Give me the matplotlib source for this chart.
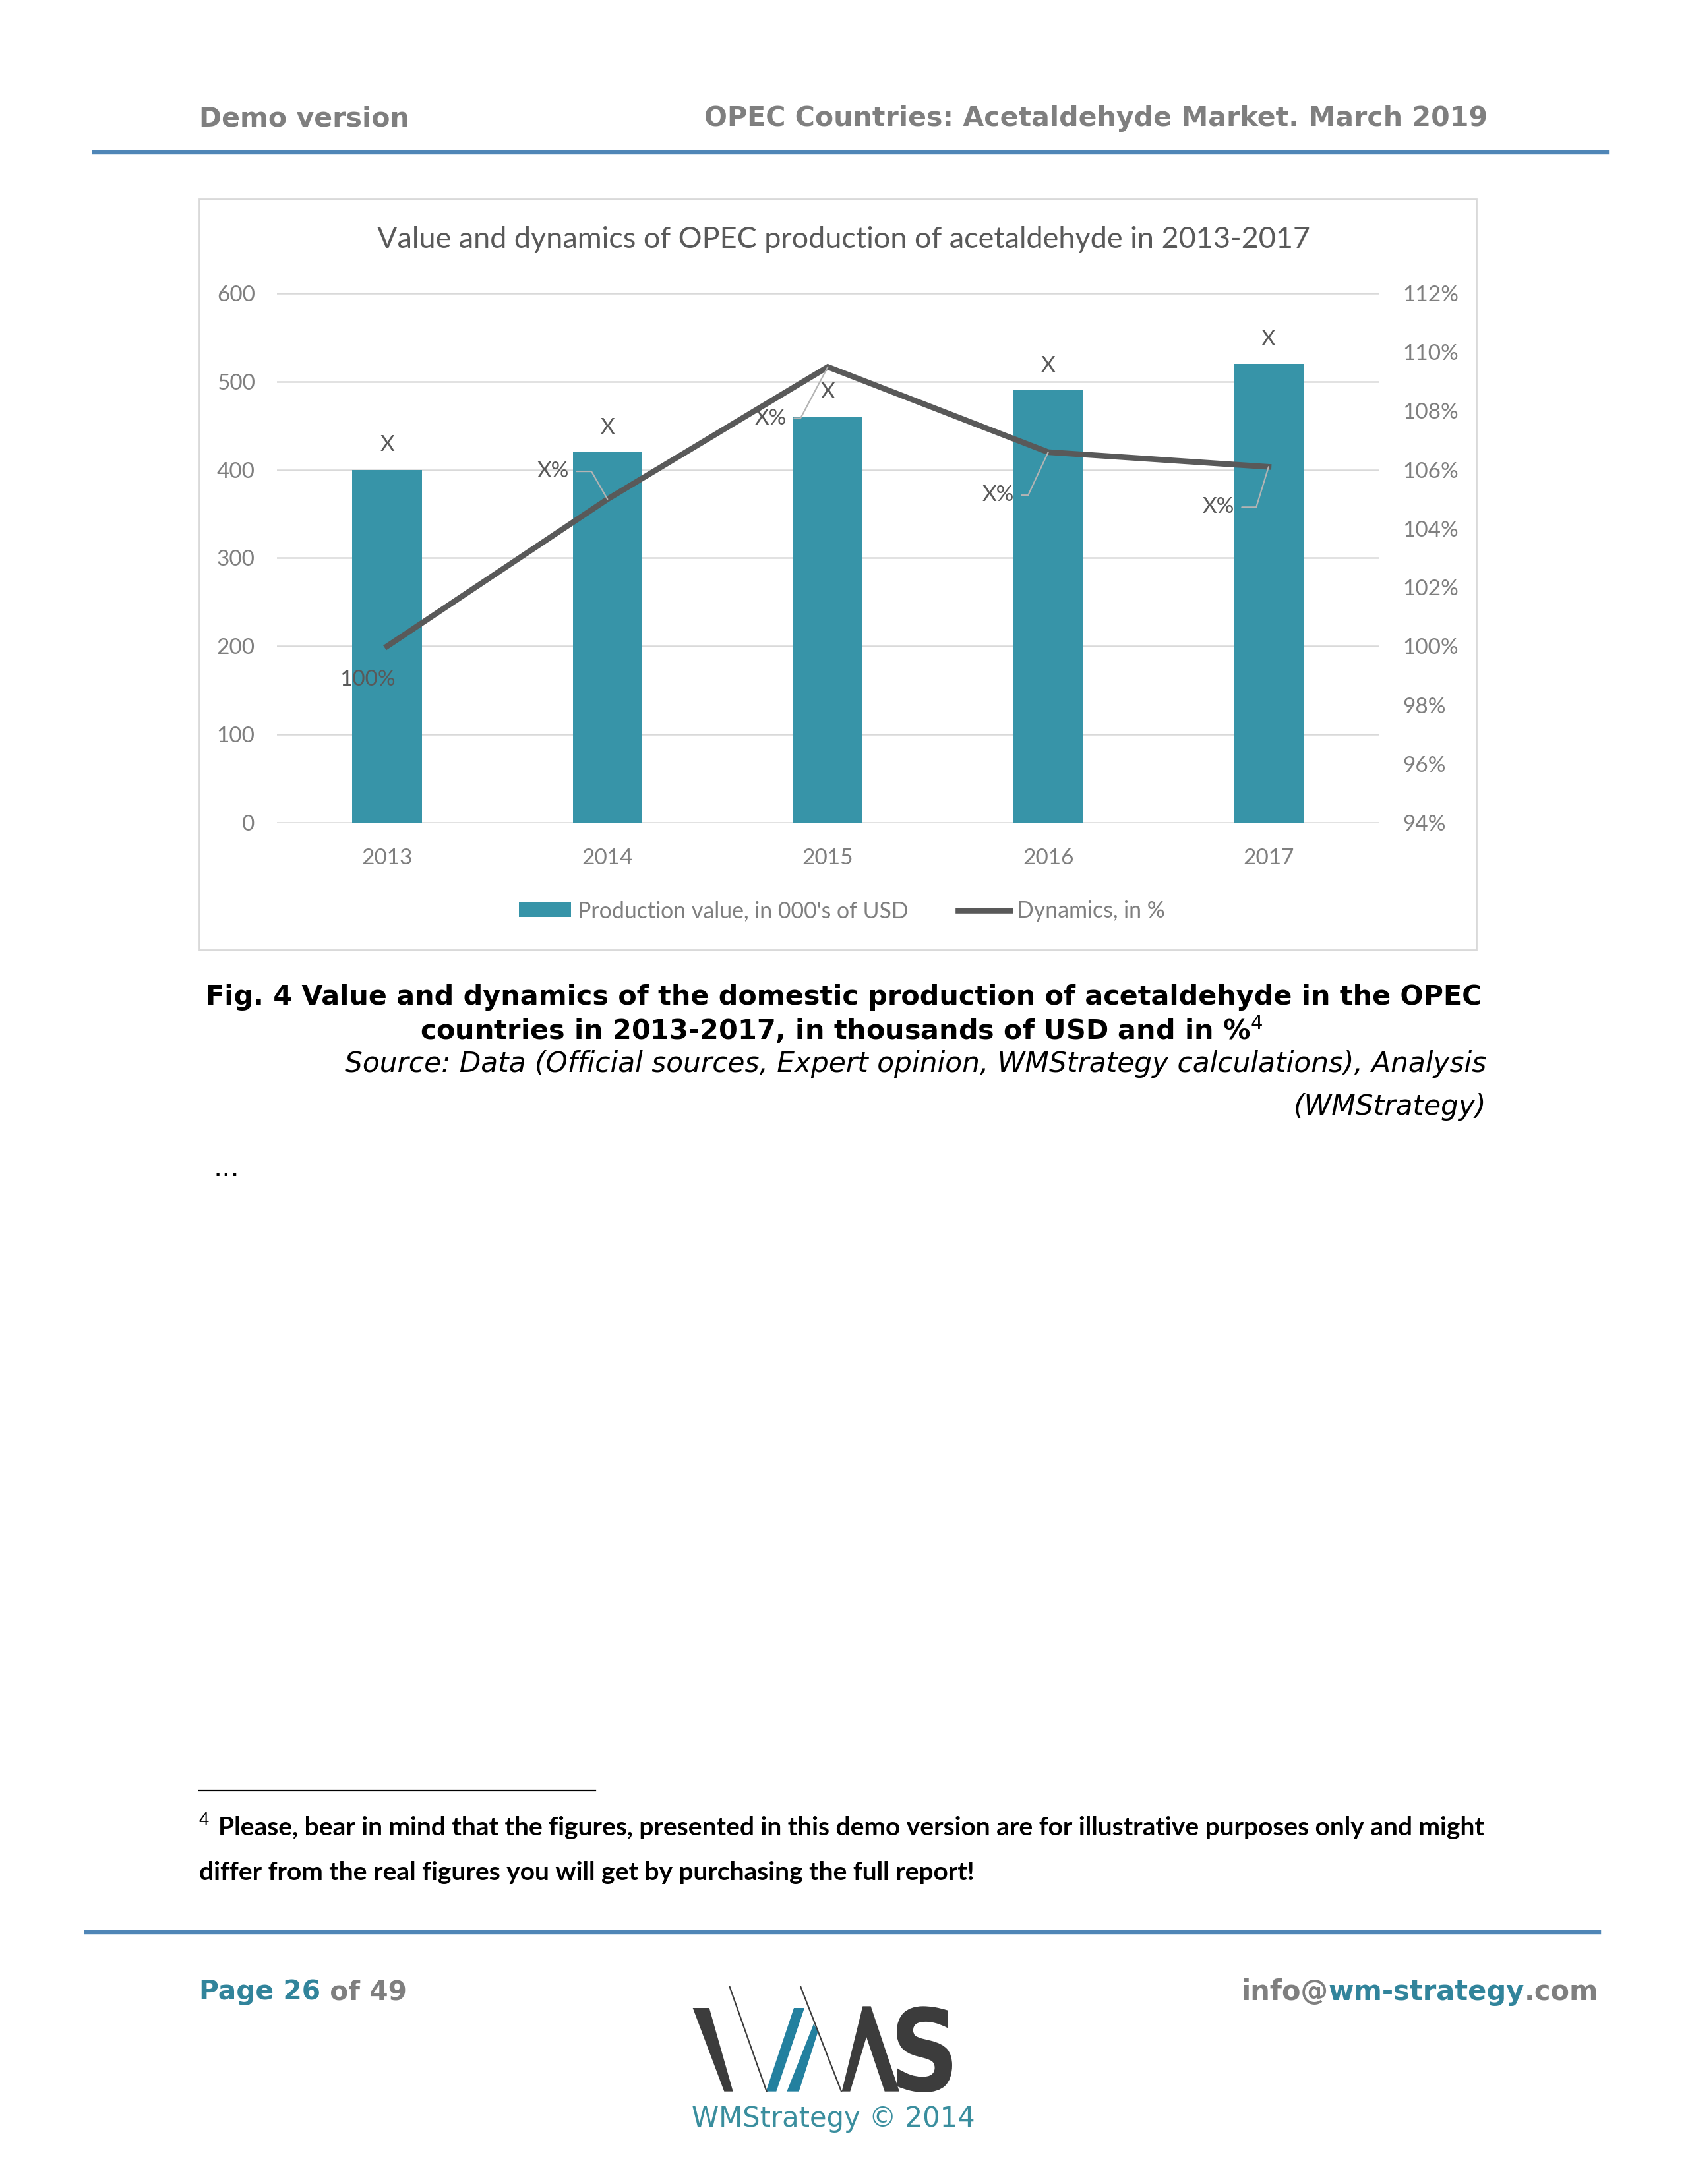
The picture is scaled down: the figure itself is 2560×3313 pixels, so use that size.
import matplotlib
matplotlib.use('Agg')
import matplotlib.pyplot as plt
from matplotlib.patches import Rectangle, Polygon, Patch, PathPatch
from matplotlib.lines import Line2D
from matplotlib.ticker import PercentFormatter
from matplotlib.textpath import TextPath
from matplotlib.font_manager import FontProperties
from matplotlib.transforms import Affine2D
import numpy as np

# ---------------- data ----------------
years = ['2013', '2014', '2015', '2016', '2017']
production_value = [400, 420, 460, 490, 520]
dynamics = [1.000, 1.050, 1.095, 1.066, 1.061]
value_labels = ['X', 'X', 'X', 'X', 'X']
dynamics_labels = ['100%', 'X%', 'X%', 'X%', 'X%']
left_ticks = [0, 100, 200, 300, 400, 500, 600]
right_ticks = [0.94, 0.96, 0.98, 1.00, 1.02, 1.04, 1.06, 1.08, 1.10, 1.12]

# ---------------- page ----------------
W, H = 2560, 3313
DPI = 200
fig = plt.figure(figsize=(W / DPI, H / DPI), dpi=DPI)
fig.patch.set_facecolor('white')

def fx(px):
    return px / W

def fy(py):
    return 1 - py / H

CH = ['Lato', 'DejaVu Sans']
DOC = ['DejaVu Sans']
TEAL = '#31849B'
GRAY = '#7F7F7F'
BLUE = '#4F86B7'

# header
fig.text(fx(302), fy(180), 'Demo version', family=DOC, weight='bold', fontsize=14.8,
         color=GRAY, ha='left', va='center')
fig.text(fx(2256), fy(180), 'OPEC Countries: Acetaldehyde Market. March 2019', family=DOC,
         weight='bold', fontsize=14.8, color=GRAY, ha='right', va='center')
fig.add_artist(Line2D([fx(143), fx(2437)], [fy(231), fy(231)], color=BLUE, lw=2.3,
                      transform=fig.transFigure))

# chart box (behind the axes)
fig.add_artist(Rectangle((fx(302), fy(1441)), fx(2239) - fx(302), fy(302) - fy(1441),
                         transform=fig.transFigure, facecolor='none', edgecolor='#D9D9D9',
                         lw=1.0, zorder=-5))

# ---------------- chart ----------------
ax = fig.add_axes([fx(420), fy(1248), fx(2091) - fx(420), fy(445) - fy(1248)])
ax.set_facecolor('none')
x = np.arange(len(years))
bars = ax.bar(x, production_value, width=0.315, color='#3794A8', zorder=2)
ax.set_xlim(-0.5, len(years) - 0.5)
ax.set_ylim(0, 600)
ax.set_yticks(left_ticks)
ax.set_xticks(x)
ax.set_xticklabels(years)
ax.grid(axis='y', color='#D9D9D9', lw=0.9, zorder=0)
ax.set_axisbelow(True)
for s in ax.spines.values():
    s.set_visible(False)
ax.tick_params(axis='both', length=0, labelsize=12, labelcolor='#7F7F7F')
ax.tick_params(axis='y', pad=12)
ax.tick_params(axis='x', pad=14)
for t in ax.get_xticklabels() + ax.get_yticklabels():
    t.set_family(CH)
ax.bar_label(bars, labels=value_labels, padding=8, fontsize=12, color='#595959', family=CH)

ax2 = ax.twinx()
ax2.set_ylim(0.94, 1.12)
ax2.set_yticks(right_ticks)
ax2.yaxis.set_major_formatter(PercentFormatter(1.0, decimals=0))
for s in ax2.spines.values():
    s.set_visible(False)
ax2.tick_params(axis='y', length=0, labelsize=12, labelcolor='#7F7F7F', pad=13)
for t in ax2.get_yticklabels():
    t.set_family(CH)
line, = ax2.plot(x, dynamics, color='#595959', lw=3.1, solid_joinstyle='miter', zorder=3)

offsets = [(-10.6, -18.2), (-29.6, 15.2), (-31.1, -28.1), (-27.3, -23.5), (-27.3, -22.0)]
leader_angle = [None, -60, 62, 65, 73]
for i, (lab, off) in enumerate(zip(dynamics_labels, offsets)):
    kw = dict(textcoords='offset points', xytext=off, ha='center', va='center',
              fontsize=12, color='#595959', family=CH)
    if leader_angle[i] is not None:
        kw['arrowprops'] = dict(arrowstyle='-', color='#B4B4B4', lw=0.8, shrinkA=2, shrinkB=0,
                                relpos=(1.0, 0.5),
                                connectionstyle='angle,angleA=0,angleB=%d,rad=0' % leader_angle[i])
    ax2.annotate(lab, xy=(x[i], dynamics[i]), **kw)

fig.text(fx(1280), fy(364), 'Value and dynamics of OPEC production of acetaldehyde in 2013-2017',
         family=CH, fontsize=16.2, color='#595959', ha='center', va='center')

handles = [Patch(facecolor='#3794A8', edgecolor='none'),
           Line2D([0], [0], color='#595959', lw=3.1)]
leg = fig.legend(handles, ["Production value, in 000's of USD", 'Dynamics, in %'],
                 loc='center', bbox_to_anchor=(fx(1277), fy(1382)), ncol=2, frameon=False,
                 prop=dict(family=CH, size=12.2), labelcolor='#7F7F7F',
                 handlelength=2.35, handleheight=0.6, handletextpad=0.3, columnspacing=2.2)

# ---------------- caption ----------------
fig.text(fx(1280), fy(1513), 'Fig. 4 Value and dynamics of the domestic production of acetaldehyde in the OPEC',
         family=DOC, weight='bold', fontsize=14.9, color='black', ha='center', va='center')
fig.text(fx(1276), fy(1563), r'countries in 2013-2017, in thousands of USD and in %$^{\mathit{4}}$',
         family=DOC, weight='bold', fontsize=14.9, color='black', ha='center', va='center')
fig.text(fx(2254), fy(1614), 'Source: Data (Official sources, Expert opinion, WMStrategy calculations), Analysis',
         family=DOC, style='italic', fontsize=15.2, color='black', ha='right', va='center')
fig.text(fx(2254), fy(1679), '(WMStrategy)', family=DOC, style='italic', fontsize=15.2,
         color='black', ha='right', va='center')
fig.text(fx(323), fy(1772), '...', family=DOC, fontsize=15, color='black', ha='left', va='center')

# ---------------- footnote ----------------
fig.add_artist(Line2D([fx(302), fx(903)], [fy(2716), fy(2716)], color='black', lw=0.8,
                      transform=fig.transFigure))
fig.text(fx(302), fy(2761), '4', family=CH, fontsize=9.5, color='black', ha='left', va='center')
fig.text(fx(331), fy(2772), 'Please, bear in mind that the figures, presented in this demo version are for illustrative purposes only and might',
         family=CH, weight='bold', fontsize=14.0, color='black', ha='left', va='center')
fig.text(fx(302), fy(2840), 'differ from the real figures you will get by purchasing the full report!',
         family=CH, weight='bold', fontsize=14.0, color='black', ha='left', va='center')

# ---------------- footer ----------------
fig.add_artist(Line2D([fx(131), fx(2425)], [fy(2931), fy(2931)], color=BLUE, lw=2.3,
                      transform=fig.transFigure))

renderer = fig.canvas.get_renderer()

def seq_text(parts, x_px, y_px, align='left', size=14.8):
    objs = []
    for txt, col in parts:
        t = fig.text(0, fy(y_px), txt, family=DOC, weight='bold', fontsize=size, color=col,
                     ha='left', va='center')
        objs.append(t)
    widths = [o.get_window_extent(renderer).width for o in objs]
    total = sum(widths)
    start = x_px if align == 'left' else x_px - total
    cur = start
    for o, w in zip(objs, widths):
        o.set_x(fx(cur))
        cur += w

seq_text([('Page 26', TEAL), (' of 49', GRAY)], 302, 3022, 'left', 14.7)
seq_text([('info@', GRAY), ('wm-strategy', TEAL), ('.com', GRAY)], 2424, 3022, 'right', 15.0)

# logo
lax = fig.add_axes([fx(1030), fy(3250), fx(1490) - fx(1030), fy(2990) - fy(3250)])
lax.set_xlim(0, 1380)
lax.set_ylim(780, 0)
lax.axis('off')
DARK = '#3C3C3C'
LTEAL = '#23809F'
lax.add_patch(Polygon([(62, 168), (137, 168), (245, 548), (205, 548)], closed=True, color=DARK, lw=0))
lax.add_patch(Polygon([(395, 548), (442, 548), (570, 168), (522, 168)], closed=True, color=LTEAL, lw=0))
lax.add_patch(Polygon([(490, 548), (545, 548), (632, 275), (612, 240)], closed=True, color=LTEAL, lw=0))
lax.add_patch(Polygon([(835, 160), (872, 160), (1002, 548), (935, 548), (852, 300), (778, 548), (740, 548)],
                      closed=True, color=DARK, lw=0))
lax.plot([230, 398], [72, 548], color=DARK, lw=0.8)
lax.plot([553, 738], [72, 548], color=DARK, lw=0.8)
tp = TextPath((0, 0), 'S', size=100, prop=FontProperties(family='DejaVu Sans', weight='bold'))
ext = tp.get_extents()
X0, X1, Y0, Y1 = 990, 1242, 160, 552
sx = (X1 - X0) / ext.width
sy = (Y1 - Y0) / ext.height
tr = Affine2D().translate(-ext.x0, -ext.y0).scale(sx, -sy).translate(X0, Y1)
lax.add_patch(PathPatch(tr.transform_path(tp), color=DARK, lw=0))

fig.text(fx(1264), fy(3214), 'WMStrategy \u00a9 2014', family=DOC, fontsize=15.0, color='#3A8E9E',
         ha='center', va='center')

fig.savefig('out.png', dpi=DPI, facecolor='white')
